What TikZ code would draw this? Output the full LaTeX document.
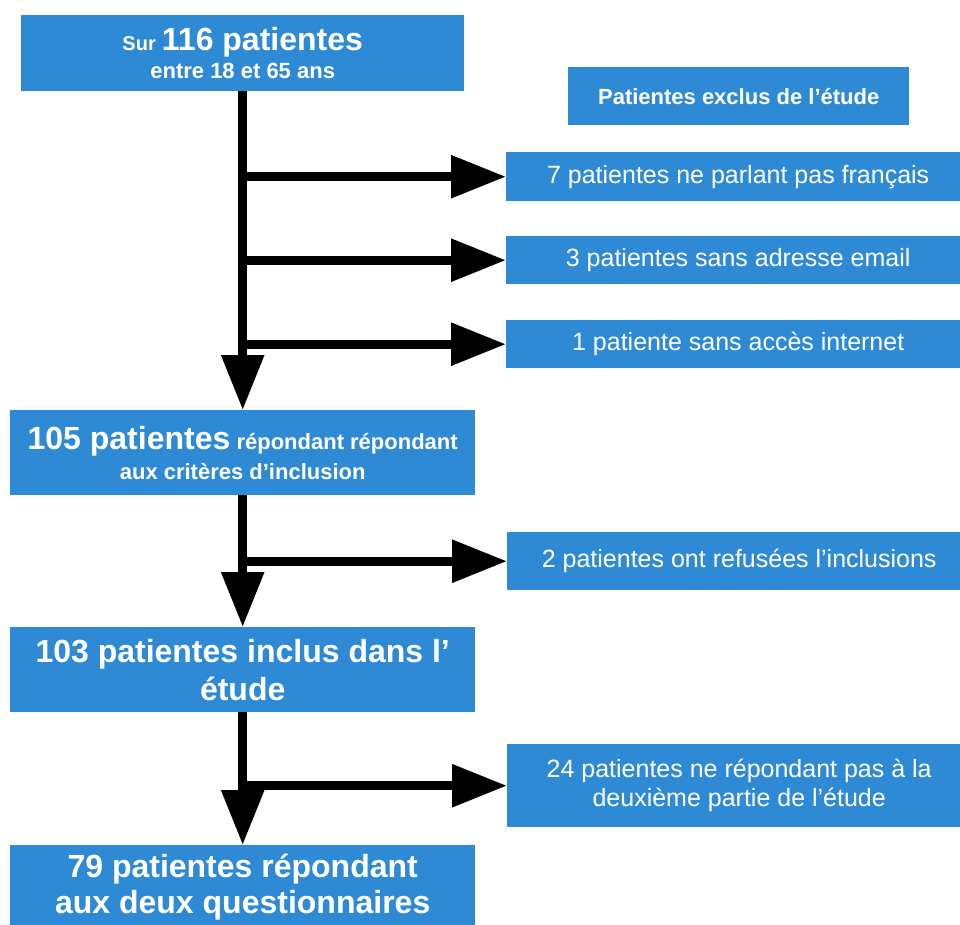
\documentclass[tikz,border=0pt]{standalone}
\usepackage{fontspec}
\setmainfont{Liberation Sans}
\usetikzlibrary{arrows.meta}
\definecolor{boxblue}{RGB}{47,138,214}
\newcommand{\fsz}[2]{\fontsize{#1}{#2}\selectfont}
\begin{document}
\begin{tikzpicture}[x=1pt,y=-1pt,
  box/.style={fill=boxblue, draw=none, text=white, inner sep=0pt, align=center, anchor=north west},
  conn/.style={line width=9pt, -{Triangle[length=55pt,width=41pt]}}]
\useasboundingbox (0,0) rectangle (960,924);
% main column
\node[box, minimum width=443pt, minimum height=76pt, font=\bfseries\fsz{22}{28}] (top) at (21,15)
  {{\fsz{20}{28}Sur} {\fsz{32}{28}116 patientes}\\entre 18 et 65 ans};
\node[box, minimum width=465pt, minimum height=85pt, font=\bfseries\fsz{22}{30}] (n105) at (10,410)
  {{\fsz{32}{30}105 patientes} répondant répondant\\aux critères d’inclusion};
\node[box, minimum width=465pt, minimum height=85pt, font=\bfseries\fsz{32}{38}] (n103) at (10,627)
  {103 patientes inclus dans l’\\étude};
\node[box, minimum width=465pt, minimum height=84pt, font=\bfseries\fsz{32}{36}] (n79) at (10,845)
  {79 patientes répondant\\aux deux questionnaires};
% right column
\node[box, minimum width=341pt, minimum height=58pt, font=\bfseries\fsz{22}{26}] (hdr) at (568,67)
  {Patientes exclus de l’étude};
\node[box, minimum width=464pt, minimum height=49pt, font=\fsz{25}{29}] (ex1) at (506,152)
  {7 patientes ne parlant pas français};
\node[box, minimum width=464pt, minimum height=48pt, font=\fsz{25}{29}] (ex2) at (506,236)
  {3 patientes sans adresse email};
\node[box, minimum width=464pt, minimum height=48pt, font=\fsz{25}{29}] (ex3) at (506,320)
  {1 patiente sans accès internet};
\node[box, minimum width=464pt, minimum height=58pt, font=\fsz{25}{29}] (ex4) at (507,532)
  {2 patientes ont refusées l’inclusions};
\node[box, minimum width=464pt, minimum height=83pt, font=\fsz{25}{29}] (ex5) at (507,744)
  {24 patientes ne répondant pas à la\\deuxième partie de l’étude};
% connectors
\draw[conn] (top.south) -- (n105.north);
\draw[conn] (top.south |- ex1.west) -- (ex1.west);
\draw[conn] (top.south |- ex2.west) -- (ex2.west);
\draw[conn] (top.south |- ex3.west) -- (ex3.west);
\draw[conn] (n105.south) -- (n103.north);
\draw[conn] (n105.south |- ex4.west) -- (ex4.west);
\draw[conn] (n103.south) -- (n79.north);
\draw[conn] (n103.south |- ex5.west) -- (ex5.west);
\end{tikzpicture}
\end{document}
